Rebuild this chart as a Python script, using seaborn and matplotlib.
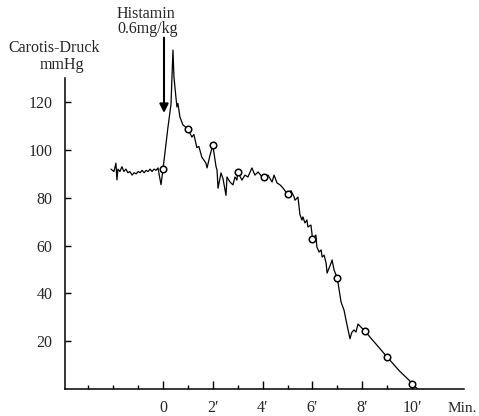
import matplotlib
matplotlib.use("Agg")
import matplotlib.pyplot as plt
import seaborn as sns
import pandas as pd

# Carotid pressure trace after histamine injection (time in minutes, pressure in mmHg)
time_min = [
    -2.09, -1.97, -1.89, -1.85, -1.81, -1.73, -1.65, -1.57, -1.49, -1.41,
    -1.33, -1.24, -1.16, -1.08, -1.00, -0.92, -0.84, -0.76, -0.68, -0.60,
    -0.52, -0.44, -0.36, -0.28, -0.20, -0.16, -0.08, 0.00,
    0.20, 0.32, 0.40, 0.44, 0.52, 0.56, 0.60, 0.68, 0.80, 1.00,
    1.16, 1.24, 1.36, 1.44, 1.56, 1.72, 1.77, 1.88, 2.00,
    2.13, 2.17, 2.21, 2.33, 2.41, 2.53, 2.57, 2.69, 2.81, 2.89, 2.97, 3.00,
    3.17, 3.29, 3.41, 3.57, 3.69, 3.82, 3.98, 4.05,
    4.22, 4.38, 4.46, 4.58, 4.70, 4.82, 5.00,
    5.14, 5.26, 5.30, 5.42, 5.50, 5.58, 5.62, 5.70, 5.78, 5.82, 5.94, 5.98, 6.00,
    6.14, 6.18, 6.27, 6.35, 6.39, 6.47, 6.55, 6.59, 6.67, 6.75, 6.79, 6.87, 7.00,
    7.15, 7.27, 7.39, 7.51, 7.55, 7.59, 7.67, 7.75, 7.83, 7.95, 8.10,
    9.00, 9.50, 9.90, 10.00, 10.20,
]
pressure = [
    92.0, 91.0, 94.5, 87.5, 92.0, 91.0, 93.0, 91.0, 92.0, 90.5,
    91.0, 89.5, 90.5, 90.0, 91.0, 90.5, 91.5, 90.5, 91.5, 91.0,
    92.0, 91.0, 92.0, 91.5, 92.5, 90.0, 85.5, 92.0,
    109.6, 119.0, 141.8, 130.5, 122.0, 118.0, 119.5, 113.8, 110.5, 108.8,
    105.4, 106.5, 101.0, 101.5, 97.0, 94.6, 92.5, 97.5, 102.0,
    93.0, 91.6, 84.0, 90.4, 88.0, 81.0, 88.7, 86.6, 85.4, 88.7, 87.4, 90.8,
    87.4, 89.5, 88.7, 92.5, 89.5, 90.8, 88.7, 88.7,
    89.5, 86.6, 89.5, 86.2, 85.4, 84.1, 81.5,
    83.0, 80.5, 79.0, 80.3, 73.0, 70.7, 72.0, 69.5, 70.7, 67.8, 68.6, 65.3, 62.8,
    64.4, 59.4, 57.3, 58.2, 55.2, 56.0, 52.7, 48.5, 50.6, 52.7, 54.0, 49.8, 46.4,
    36.4, 33.0, 26.8, 21.0, 22.6, 23.8, 24.7, 23.8, 27.2, 25.9, 24.3,
    13.4, 7.5, 3.5, 2.0, 0.3,
]

# Readings marked once per minute
mark_min = [0.0, 1.0, 2.0, 3.0, 4.05, 5.0, 6.0, 7.0, 8.1, 9.0, 10.0]
mark_mmhg = [92.0, 108.8, 102.0, 90.8, 88.7, 81.5, 62.8, 46.4, 24.3, 13.4, 2.0]

y_ticks = [20, 40, 60, 80, 100, 120]
x_major = [0, 2, 4, 6, 8, 10]
x_major_labels = ["0", "2\u2032", "4\u2032", "6\u2032", "8\u2032", "10\u2032"]
x_minor = [-3, -2, -1, 1, 3, 5, 7, 9]

sns.set_theme(style="white")
plt.rcParams["font.family"] = ["Liberation Serif", "DejaVu Serif"]

W, H = 479, 416
fig = plt.figure(figsize=(W / 100, H / 100), dpi=100)
ax = fig.add_axes([65 / W, 1 - 389 / H, (470 - 65) / W, (389 - 30) / H])

trace = pd.DataFrame({"t": time_min, "p": pressure})
marks = pd.DataFrame({"t": mark_min, "p": mark_mmhg})

sns.lineplot(data=trace, x="t", y="p", sort=False, estimator=None,
             color="black", lw=0.9, ax=ax)
sns.scatterplot(data=marks, x="t", y="p", marker="o", s=22,
                facecolor="white", edgecolor="black", linewidth=1.1,
                zorder=3, ax=ax)

ax.set_xlim((65 - 163) / 24.9, (470 - 163) / 24.9)
ax.set_ylim(0, (389 - 30) / 2.39)

for side in ("top", "right"):
    ax.spines[side].set_visible(False)
ax.spines["left"].set_bounds(0, 130)
ax.spines["bottom"].set_bounds((65 - 163) / 24.9, 12.1)
for side in ("left", "bottom"):
    ax.spines[side].set_color("black")
    ax.spines[side].set_linewidth(1.1)

ax.set_yticks(y_ticks)
ax.set_yticklabels([str(v) for v in y_ticks])
ax.set_xticks(x_major)
ax.set_xticklabels(x_major_labels)
ax.set_xticks(x_minor, minor=True)
ax.tick_params(axis="y", direction="in", length=4.5, width=1.0, color="black",
               pad=9, labelsize=11.5, left=True)
ax.tick_params(axis="x", which="major", direction="in", length=6, width=1.0,
               color="black", pad=8, labelsize=11.5, bottom=True)
ax.tick_params(axis="x", which="minor", direction="in", length=3, width=1.0,
               color="black", bottom=True)
ax.set_xlabel("")
ax.set_ylabel("")
ax.grid(False)

# Injection arrow
ax.annotate("", xy=(0.04, 115.5), xytext=(0.04, 147),
            arrowprops=dict(arrowstyle="-|>", lw=1.5, color="black",
                            mutation_scale=13, shrinkA=0, shrinkB=0))

def ftext(px, py, s, **kw):
    fig.text(px / W, 1 - py / H, s, **kw)

ftext(54, 52, "Carotis-Druck", ha="center", va="baseline", fontsize=11.5)
ftext(62, 69, "mmHg", ha="center", va="baseline", fontsize=11.5)
ftext(146, 18, "Histamin", ha="center", va="baseline", fontsize=11.5)
ftext(148, 33, "0.6mg/kg", ha="center", va="baseline", fontsize=11.5)
ftext(477, 412, "Min.", ha="right", va="baseline", fontsize=11)

fig.savefig("out.png", dpi=100)
